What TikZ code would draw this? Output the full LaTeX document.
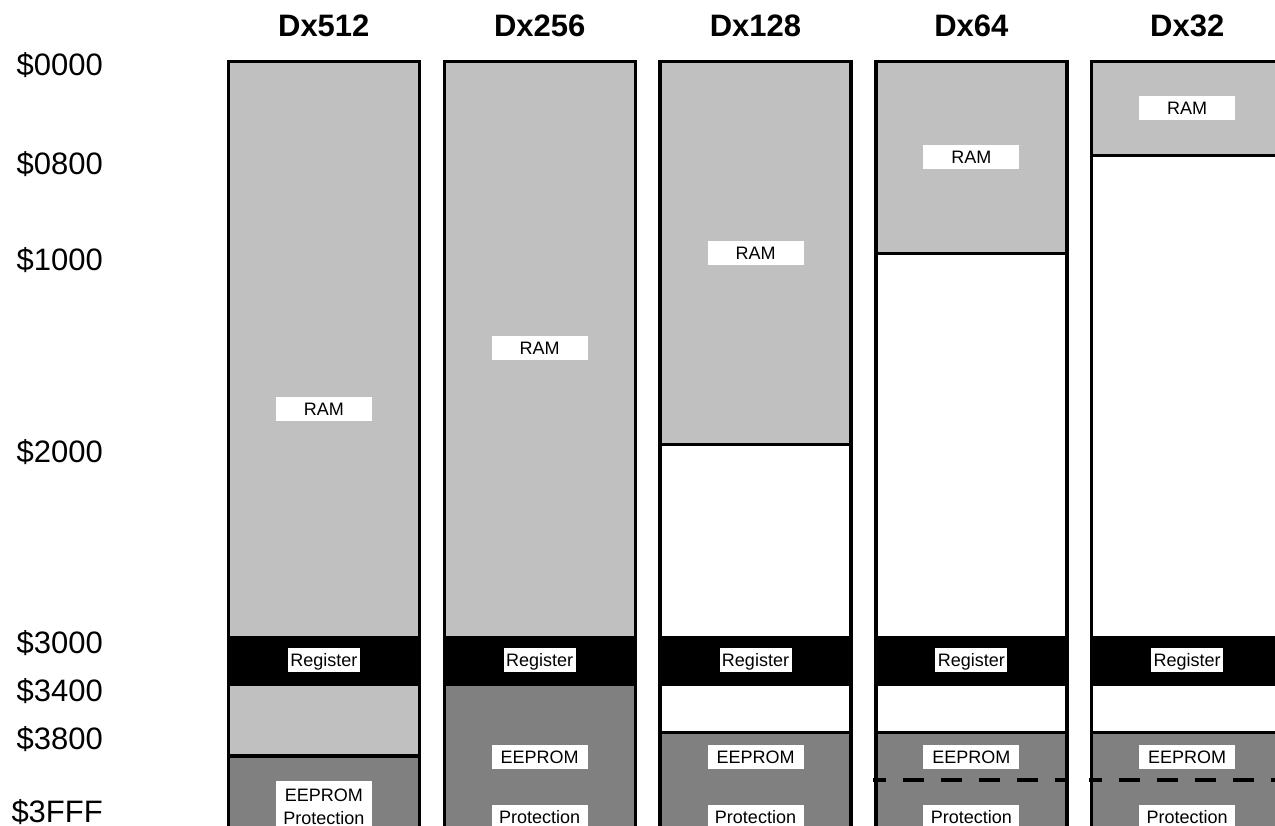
\documentclass[tikz,border=0pt]{standalone}
\usepackage{fontspec}
\setmainfont{Liberation Sans}
\definecolor{ramc}{RGB}{192,192,192}
\definecolor{eec}{RGB}{128,128,128}
\begin{document}
\begin{tikzpicture}[x=1pt,y=-1pt,
  ramfill/.style={fill=ramc},
  eefill/.style={fill=eec},
  regfill/.style={fill=black},
  wall/.style={line width=3.2pt},
  sepline/.style={line width=3.2pt},
  dashline/.style={line width=3.2pt, dash pattern=on 21pt off 17pt, dash phase=8pt},
  lbl/.style={fill=white, font=\fontsize{18}{21}\selectfont, inner xsep=0pt, inner ysep=0pt,
    minimum width=96pt, minimum height=24pt, text height=13pt, text depth=0pt},
  reglbl/.style={lbl, minimum width=72pt},
  plain/.style={font=\fontsize{18}{21}\selectfont, inner sep=0pt, text height=13pt, text depth=0pt},
  addr/.style={font=\fontsize{31}{36}\selectfont, anchor=east, inner sep=0pt, text height=22pt, text depth=0pt},
  title/.style={font=\bfseries\fontsize{31}{36}\selectfont, inner sep=0pt, text height=22pt, text depth=0pt}]
\clip (0,0) rectangle (1275,826);
\fill[white] (0,0) rectangle (1275,826);

% ---------- fills ----------
% Dx512
\fill[ramfill] (228.3,61.5) rectangle (419.3,756);
\fill[eefill] (228.3,756) rectangle (419.3,830);
% Dx256
\fill[ramfill] (444.2,61.5) rectangle (635.2,635.5);
\fill[eefill] (444.2,684.5) rectangle (635.2,830);
% Dx128
\fill[ramfill] (660,61.5) rectangle (851,444.7);
\fill[eefill] (660,732.7) rectangle (851,830);
% Dx64
\fill[ramfill] (875.9,61.5) rectangle (1066.9,253.3);
\fill[eefill] (875.9,732.7) rectangle (1066.9,830);
% Dx32
\fill[ramfill] (1091.7,61.5) rectangle (1282.7,155.5);
\fill[eefill] (1091.7,732.7) rectangle (1282.7,830);

% ---------- register band, outlines, titles ----------
\foreach \L/\n in {228.3/512, 444.2/256, 660/128, 875.9/64, 1091.7/32} {
  \pgfmathsetmacro\R{\L+191}
  \pgfmathsetmacro\C{\L+95.5}
  \fill[regfill] (\L,635.5) rectangle (\R,684.5);
  \draw[sepline] (\L-1.5,684.5) -- (\R,684.5);
  \draw[wall] (\L,830) -- (\L,61.5) -- (\R,61.5) -- (\R,830);
  \node[reglbl] (reg\n) at (\C,660) {Register};
  \node[title] (title\n) at (\C,26) {Dx\n};
}

% ---------- other separators ----------
\draw[sepline] (226.8,756) -- (419.3,756);
\draw[sepline] (658.5,444.7) -- (851,444.7);
\draw[sepline] (658.5,732.7) -- (851,732.7);
\draw[sepline] (874.4,253.3) -- (1066.9,253.3);
\draw[sepline] (874.4,732.7) -- (1066.9,732.7);
\draw[sepline] (1090.2,155.5) -- (1282.7,155.5);
\draw[sepline] (1090.2,732.7) -- (1282.7,732.7);
\draw[dashline] (873,780) -- (1066.9,780);
\draw[dashline] (1088.8,780) -- (1282.7,780);

% ---------- RAM labels ----------
\node[lbl] (ram512) at (323.8,408.5) {RAM};
\node[lbl] (ram256) at (539.7,348.5) {RAM};
\node[lbl] (ram128) at (755.5,253) {RAM};
\node[lbl] (ram64) at (971.4,157) {RAM};
\node[lbl] (ram32) at (1187.2,108.5) {RAM};

% ---------- EEPROM labels ----------
\fill[white] (275.8,781) rectangle (371.8,830);
\node[plain] (ee512) at (323.8,794.5) {EEPROM};
\node[plain] (pr512) at (323.8,817.5) {Protection};
\foreach \C/\n in {539.7/256, 755.5/128, 971.4/64, 1187.2/32} {
  \node[lbl] (ee\n) at (\C,757) {EEPROM};
  \node[lbl] (pr\n) at (\C,817) {Protection};
}

% ---------- address labels ----------
\node[addr] (a0000) at (103,65) {\$0000};
\node[addr] (a0800) at (103,164) {\$0800};
\node[addr] (a1000) at (103,260) {\$1000};
\node[addr] (a2000) at (103,451) {\$2000};
\node[addr] (a3000) at (103,642) {\$3000};
\node[addr] (a3400) at (103,690) {\$3400};
\node[addr] (a3800) at (103,738) {\$3800};
\node[addr] (a3fff) at (103,811) {\$3FFF};
\end{tikzpicture}
\end{document}
